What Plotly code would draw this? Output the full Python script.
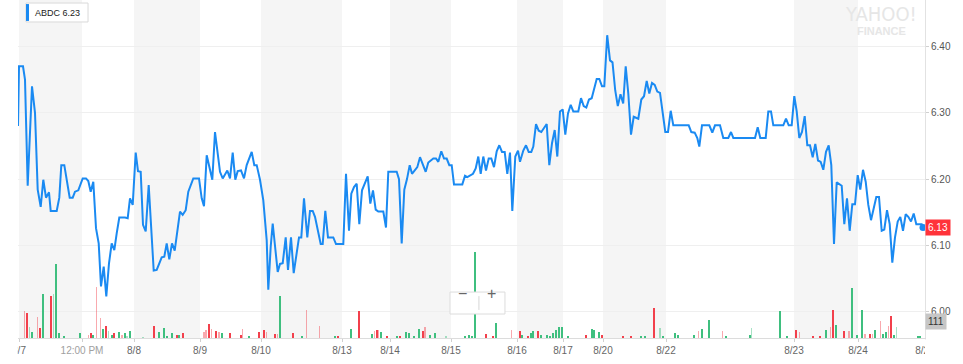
import plotly.graph_objects as go

# ---------------- data ----------------
tick_pos = [1, 64, 116, 182, 243, 324, 372, 433, 499, 545, 585, 648, 776, 840, 907]
tick_labels = ["8/7", "12:00 PM", "8/8", "8/9", "8/10", "8/13", "8/14", "8/15",
               "8/16", "8/17", "8/20", "8/22", "8/23", "8/24", "8/27"]

t_price = [0, 1, 5, 7, 9.7, 14, 17, 19.7, 22.7, 25.3, 28, 31, 32.7, 38.7, 41.3, 43.3, 46.3, 51.7, 54.7, 57,
           60.3, 64.7, 68, 70.3, 72.7, 75.3, 78, 80.7, 83, 85.7, 88.3, 91, 93.7, 96.3, 98.7, 101.3, 107, 109.7, 112, 114.7,
           117.7, 120, 122.7, 125, 127.7, 130.7, 135.7, 138.7, 143.7, 146.3, 148.7, 151.3, 154, 156.7, 162, 164.7, 167.7, 170.3, 175.3, 181,
           183.7, 186, 188.7, 192, 194.3, 197, 202, 204.7, 209.3, 212, 214.7, 217.3, 219.7, 223, 226, 228.7, 233.7, 236.3, 238.7, 242,
           245.3, 248.7, 250.3, 252.7, 254.7, 259.7, 262, 264.7, 267.7, 270, 273, 275.7, 281, 283.3, 286, 289.3, 292, 294.7, 297, 302.7,
           304.7, 307.3, 310, 315.3, 318, 325.3, 328, 331, 333.3, 336, 338.7, 341.3, 344, 349.7, 352.3, 355, 357.7, 360.3, 365.3, 368,
           370.3, 378.7, 381, 383.7, 386.3, 389, 391.7, 394, 399.3, 402, 407.7, 410.3, 415.3, 418, 420.3, 423.3, 426, 428.7, 431.3, 433.7,
           436, 444.3, 447, 449.3, 455, 457.7, 460.3, 462.7, 465.3, 468, 470.7, 473.3, 476, 478.7, 481.3, 484, 486.7, 489.3, 492, 494.3,
           497.3, 500, 502, 505.3, 508, 510.7, 513.3, 515.3, 518, 520.7, 523.3, 528.7, 531.3, 534, 536.7, 539.3, 542, 544.7, 547.3, 550,
           552.7, 555.3, 560.3, 563, 565.7, 568.3, 571, 573.7, 578.7, 581.3, 584, 586.3, 589.2, 592, 594.5, 597.2, 599.8, 602.5, 605.2, 607.7,
           610.3, 613, 615.7, 620.3, 623.3, 626, 628.7, 631.3, 634, 636.7, 639.3, 642, 647.3, 650, 652.7, 655.3, 670.7, 673.3, 676.7, 679.3,
           681.3, 684, 691.3, 694.3, 697, 702, 705.3, 710.3, 713, 715.3, 737, 739.7, 742.3, 747.7, 750.3, 753, 755.3, 765.3, 768, 770.7,
           773.7, 776.3, 778.7, 781.3, 784, 786.7, 789.3, 792, 794.7, 797.3, 800, 802.7, 805.3, 808, 810.7, 813.3, 816, 818.7, 823.7, 826.3,
           829, 831.7, 834.3, 837, 839.7, 842.3, 845, 847.7, 850.3, 853, 855.7, 858.3, 861, 863.7, 866.3, 869, 871.7, 874.3, 877, 879.7,
           882.3, 885, 887.7, 890.3, 893, 895.7, 898.3, 903.7, 905]

price = [6.28, 6.37, 6.37, 6.35, 6.19, 6.34, 6.30, 6.184, 6.158, 6.199, 6.172, 6.180, 6.152, 6.152, 6.172, 6.221, 6.221, 6.172, 6.172, 6.181,
         6.183, 6.201, 6.201, 6.197, 6.181, 6.196, 6.126, 6.103, 6.038, 6.068, 6.023, 6.073, 6.103, 6.093, 6.118, 6.142, 6.142, 6.141, 6.171, 6.161,
         6.240, 6.212, 6.211, 6.131, 6.121, 6.191, 6.062, 6.063, 6.082, 6.083, 6.103, 6.079, 6.103, 6.092, 6.151, 6.146, 6.153, 6.181, 6.201, 6.201,
         6.171, 6.159, 6.236, 6.214, 6.199, 6.271, 6.211, 6.201, 6.213, 6.201, 6.240, 6.199, 6.212, 6.213, 6.201, 6.221, 6.241, 6.221, 6.221, 6.199,
         6.168, 6.108, 6.033, 6.098, 6.133, 6.060, 6.072, 6.073, 6.112, 6.063, 6.112, 6.058, 6.112, 6.112, 6.171, 6.112, 6.152, 6.152, 6.143, 6.102,
         6.102, 6.152, 6.112, 6.112, 6.102, 6.102, 6.208, 6.122, 6.178, 6.188, 6.193, 6.132, 6.183, 6.204, 6.163, 6.183, 6.154, 6.151, 6.151, 6.127,
         6.211, 6.211, 6.200, 6.103, 6.184, 6.200, 6.221, 6.208, 6.218, 6.233, 6.211, 6.225, 6.231, 6.231, 6.226, 6.242, 6.231, 6.231, 6.221, 6.221,
         6.192, 6.192, 6.205, 6.203, 6.208, 6.216, 6.234, 6.208, 6.234, 6.213, 6.231, 6.231, 6.218, 6.242, 6.251, 6.241, 6.241, 6.208, 6.240, 6.152,
         6.234, 6.243, 6.226, 6.243, 6.251, 6.241, 6.241, 6.249, 6.283, 6.273, 6.271, 6.283, 6.221, 6.254, 6.274, 6.234, 6.302, 6.305, 6.267, 6.299,
         6.312, 6.302, 6.302, 6.322, 6.310, 6.308, 6.320, 6.322, 6.351, 6.351, 6.340, 6.340, 6.417, 6.379, 6.376, 6.334, 6.310, 6.328, 6.314, 6.370,
         6.329, 6.267, 6.294, 6.291, 6.320, 6.325, 6.348, 6.329, 6.345, 6.342, 6.332, 6.330, 6.271, 6.271, 6.303, 6.281, 6.281, 6.271, 6.270, 6.262,
         6.249, 6.281, 6.281, 6.270, 6.281, 6.281, 6.262, 6.262, 6.271, 6.262, 6.262, 6.278, 6.262, 6.262, 6.302, 6.302, 6.281, 6.281, 6.291, 6.281,
         6.281, 6.325, 6.302, 6.262, 6.271, 6.295, 6.251, 6.251, 6.233, 6.253, 6.228, 6.226, 6.214, 6.241, 6.251, 6.221, 6.102, 6.195, 6.190, 6.132,
         6.171, 6.122, 6.162, 6.162, 6.206, 6.184, 6.214, 6.196, 6.161, 6.138, 6.158, 6.173, 6.173, 6.122, 6.124, 6.153, 6.132, 6.074, 6.112, 6.136,
         6.143, 6.122, 6.147, 6.143, 6.136, 6.148, 6.132, 6.132, 6.127]

t_vol = [6.3, 9, 11.7, 14.3, 19.3, 22, 25.3, 33.3, 35.3, 38, 40.7, 46.3, 62, 70.3, 72.7, 74.7, 78.3, 82.7, 85.3, 88,
         90.7, 93.7, 96.3, 101.3, 104, 106.7, 109, 111.7, 125, 135.7, 141.3, 146, 148.7, 154, 158.7, 161.3, 164.7, 186, 188, 190.7,
         193.3, 198.3, 201, 203.7, 212, 222.7, 224.7, 231, 241, 246.3, 248.7, 256.7, 259.3, 262.3, 275.3, 283.7, 288.7, 301.3, 317, 320.3,
         333, 341.3, 354.3, 356.3, 358.7, 360.3, 362.7, 368.7, 379, 382, 388, 390.7, 396, 401.3, 404.7, 407, 412.3, 417.3, 428, 447.3,
         451.3, 454, 457, 467.7, 475.3, 478, 493.7, 502, 504.3, 510.3, 512.7, 514.7, 520.3, 523, 528.7, 532, 534.7, 538, 541.3, 544,
         550, 567.7, 573.7, 576, 581.3, 583.7, 604.7, 612.7, 623, 627, 636.3, 642, 645.3, 657, 660.3, 676.3, 680.3, 683.7, 691.3, 704.7,
         708, 732, 733.7, 762, 768.7, 778, 781.3, 794.7, 802, 808, 812.7, 815.3, 818, 826.3, 831, 834.3, 838.7, 844.3, 847, 852,
         854.7, 857.3, 862.7, 865.3, 868, 870.7, 873.3, 876, 878.7, 899.7, 902]

volume = [4000, 3700, 1700, 850, 3100, 1500, 6600, 6350, 6600, 11100, 700, 350, 750, 500, 700, 500, 7650, 3000, 1350, 1750,
          1100, 500, 700, 850, 500, 700, 350, 1000, 220, 1850, 850, 1450, 350, 750, 500, 500, 700, 850, 1200, 2100,
          1350, 1000, 850, 700, 700, 450, 1350, 220, 850, 1200, 850, 600, 600, 6350, 750, 300, 4250, 1750, 350, 350,
          1350, 4000, 600, 1000, 1200, 1200, 850, 350, 350, 350, 850, 700, 300, 1350, 1000, 1600, 500, 750, 300, 350,
          500, 300, 12900, 600, 350, 2200, 1200, 1100, 500, 350, 700, 1100, 1100, 500, 500, 300, 700, 1200, 1700, 1700,
          300, 450, 1350, 1200, 850, 450, 350, 350, 300, 300, 4500, 1500, 300, 750, 500, 500, 1000, 1350, 2750, 1000,
          350, 500, 1500, 4000, 300, 1200, 950, 350, 350, 1200, 1700, 4200, 2000, 1000, 1000, 7500, 500, 4250, 600, 600,
          600, 1200, 2500, 600, 850, 1850, 3250, 500, 1600, 350, 350]

vol_kind = ["p", "r", "lg", "g", "p", "r", "g", "r", "lg", "g", "g", "g", "g", "p", "r", "g", "p", "p", "g", "r",
            "lg", "g", "r", "g", "p", "g", "lg", "g", "lg", "r", "g", "g", "g", "g", "r", "g", "r", "p", "p", "r",
            "p", "r", "p", "g", "r", "r", "p", "g", "r", "r", "p", "r", "p", "g", "r", "g", "p", "p", "g", "r",
            "g", "r", "g", "p", "r", "p", "g", "r", "g", "r", "g", "g", "g", "g", "r", "p", "g", "g", "lg", "g",
            "g", "g", "g", "r", "r", "g", "p", "r", "g", "r", "g", "g", "r", "g", "g", "g", "g", "g", "g", "g",
            "g", "r", "g", "g", "g", "r", "r", "r", "g", "g", "r", "lg", "g", "g", "g", "g", "p", "g", "g", "p",
            "g", "g", "lg", "g", "g", "r", "p", "r", "r", "g", "p", "r", "g", "r", "p", "g", "g", "g", "p", "r",
            "p", "g", "p", "g", "g", "p", "r", "g", "lg", "g", "g"]

symbol = "ABDC"
legend_value = "6.23"
last_volume_label = "111"
price_ticks = [6.00, 6.10, 6.20, 6.30, 6.40]

assert len(t_price) == len(price), (len(t_price), len(price))
assert len(t_vol) == len(volume) == len(vol_kind), (len(t_vol), len(volume), len(vol_kind))

# ---------------- style ----------------
FONT = "Liberation Sans, Helvetica Neue, Arial, sans-serif"
NARROW = "Liberation Sans Narrow, DejaVu Sans Condensed, Liberation Sans, sans-serif"
BLUE = "#1a8af2"
kind_color = {"g": "#3fbf7f", "lg": "rgba(63,191,127,0.45)",
              "r": "#f2404c", "p": "rgba(242,64,76,0.45)"}

fig = go.Figure()

# alternating day bands (between consecutive ticks)
for i in range(0, len(tick_pos) - 1, 2):
    fig.add_shape(type="rect", xref="x", yref="paper",
                  x0=tick_pos[i], x1=tick_pos[i + 1], y0=0, y1=1,
                  fillcolor="#f5f5f5", line_width=0, layer="below")

fig.add_trace(go.Bar(x=t_vol, y=volume, marker_color=[kind_color[k] for k in vol_kind],
                     marker_line_width=0, width=1.3, yaxis="y", hoverinfo="skip"))

fig.add_trace(go.Scatter(x=t_price, y=price, mode="lines", yaxis="y2",
                         line=dict(color=BLUE, width=2), hoverinfo="skip"))
fig.add_trace(go.Scatter(x=[t_price[-1]], y=[price[-1]], mode="markers", yaxis="y2",
                         marker=dict(color=BLUE, size=7), cliponaxis=False, hoverinfo="skip"))

ticktext = [f"<span style='color:#a0a0a0'>{t}</span>" if "PM" in t or "AM" in t else t
            for t in tick_labels]

fig.update_layout(
    width=963, height=364,
    margin=dict(l=18, r=38, t=0, b=26),
    paper_bgcolor="white", plot_bgcolor="white",
    showlegend=False, bargap=0,
    font=dict(family=FONT, size=10, color="#555"),
    xaxis=dict(range=[0, 907], tickvals=tick_pos, ticktext=ticktext,
               showgrid=False, zeroline=False, ticks="outside", ticklen=3,
               tickcolor="#d0d0d0", showline=True, linecolor="#dcdcdc",
               tickfont=dict(size=10, color="#666")),
    yaxis=dict(range=[0, 50700], visible=False, showgrid=False, zeroline=False),
    yaxis2=dict(overlaying="y", side="right", range=[5.9603, 6.4701],
                tickvals=price_ticks, tickformat=".2f",
                showgrid=True, gridcolor="#efefef", gridwidth=1, zeroline=False,
                ticks="outside", ticklen=3, tickcolor="#d0d0d0",
                showline=True, linecolor="#e2e2e2",
                tickfont=dict(size=10, color="#555")),
)

# cover the clipped parts of the first/last date labels
fig.add_shape(type="rect", xref="paper", yref="paper", x0=-0.05, x1=-0.0005,
              y0=-0.2, y1=-0.004, fillcolor="white", line_width=0, layer="above")
fig.add_shape(type="rect", xref="paper", yref="paper", x0=1.0, x1=1.06,
              y0=-0.2, y1=-0.004, fillcolor="white", line_width=0, layer="above")

# legend box (white card + blue marker bar + text)
fig.add_shape(type="rect", xref="paper", yref="paper", x0=0.0088, x1=0.0772,
              y0=0.935, y1=0.991, fillcolor="white", line=dict(color="#d9d9d9", width=1),
              layer="above")
fig.add_shape(type="rect", xref="paper", yref="paper", x0=0.0088, x1=0.0121,
              y0=0.938, y1=0.988, fillcolor=BLUE, line_width=0, layer="above")
fig.add_annotation(xref="paper", yref="paper", x=0.0176, y=0.9625, xanchor="left", yanchor="middle",
                   text=f"{symbol} {legend_value}", showarrow=False,
                   font=dict(size=9, color="#222"), borderpad=0)

# watermark (single two-line text block)
fig.add_annotation(xref="paper", yref="paper", x=0.9515, y=0.998, xanchor="center", yanchor="top",
                   text=(f"<span style=\"font-family:{NARROW};font-size:20px\">YAHOO!</span>"
                         "<br><b>FINANCE</b>"),
                   showarrow=False, align="center",
                   font=dict(size=11, color="#e6e6e6"), borderpad=0)

# last price & volume labels
fig.add_annotation(xref="paper", yref="y2", x=1.0, y=price[-1], xanchor="left",
                   text=f"{price[-1]:.2f}", showarrow=False, bgcolor="#ff333a",
                   font=dict(size=10, color="white"), borderpad=2)
fig.add_annotation(xref="paper", yref="paper", x=1.0, y=0.024, xanchor="left",
                   text=last_volume_label, showarrow=False, bgcolor="#c6c6c6",
                   font=dict(size=10, color="#333"), borderpad=2)

# zoom control
fig.add_shape(type="rect", xref="paper", yref="paper", x0=0.4763, x1=0.5369,
              y0=0.071, y1=0.136, fillcolor="white", line=dict(color="#dcdcdc", width=1),
              layer="above")
fig.add_shape(type="line", xref="paper", yref="paper", x0=0.5082, x1=0.5082,
              y0=0.083, y1=0.124, line=dict(color="#d6d6d6", width=1), layer="above")
fig.add_annotation(xref="paper", yref="paper", x=0.4906, y=0.104, xanchor="center",
                   text="−", showarrow=False, font=dict(size=16, color="#666"), borderpad=0)
fig.add_annotation(xref="paper", yref="paper", x=0.5222, y=0.104, xanchor="center",
                   text="+", showarrow=False, font=dict(size=16, color="#666"), borderpad=0)

fig.write_html("out.html", config={"displayModeBar": False},
               post_script="document.body.style.margin='0';")
